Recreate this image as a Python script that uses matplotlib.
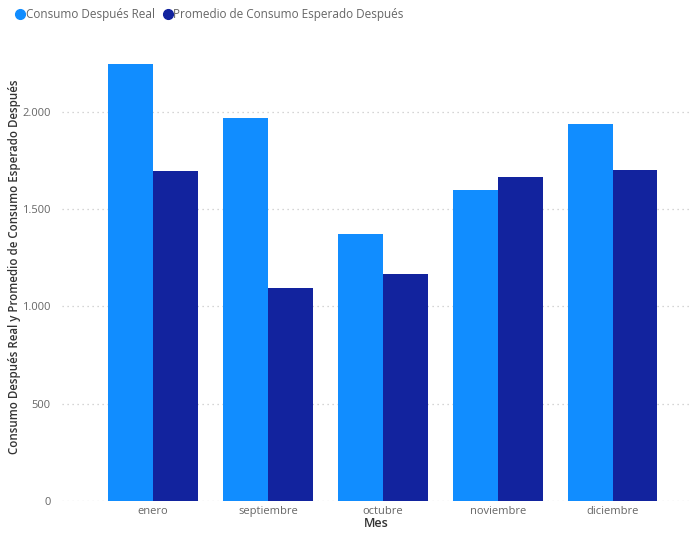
import numpy as np
import matplotlib.pyplot as plt
from matplotlib.lines import Line2D
from matplotlib.ticker import FuncFormatter

# Consumption per month: real vs. expected average
meses = ["enero", "septiembre", "octubre", "noviembre", "diciembre"]
consumo_real = [2246, 1969, 1374, 1598, 1938]
consumo_esperado = [1697, 1094, 1166, 1667, 1702]

plt.rcParams['font.family'] = ['Open Sans', 'DejaVu Sans']

color_real = '#118DFF'
color_esp = '#12239E'

fig = plt.figure(figsize=(6.92, 5.34), dpi=100)
ax = fig.add_axes([0.0896, 0.062, 0.907, 0.844])

x = np.arange(len(meses))
w = 0.39
ax.bar(x - w / 2, consumo_real, width=w, color=color_real, zorder=3)
ax.bar(x + w / 2, consumo_esperado, width=w, color=color_esp, zorder=3)

ax.set_xlim(-0.79, 4.67)
ax.set_ylim(0, 2318)
ax.set_xticks(x)
ax.set_xticklabels(meses)
ax.set_yticks([0, 500, 1000, 1500, 2000])
ax.yaxis.set_major_formatter(FuncFormatter(lambda v, p: f"{int(v):,}".replace(",", ".")))
ax.tick_params(axis='both', length=0, labelsize=8, labelcolor='#666666')
ax.tick_params(axis='x', pad=4)
ax.tick_params(axis='y', pad=8)

ax.grid(axis='y', linestyle=(0, (1, 3)), color='#C8C8C8', linewidth=0.9, zorder=0)
for s in ax.spines.values():
    s.set_visible(False)

ax.set_xlabel("Mes", fontsize=9, fontweight='semibold', color='#333333', labelpad=0)
ax.set_ylabel("Consumo Después Real y Promedio de Consumo Esperado Después",
              fontsize=8.3, fontweight='semibold', color='#333333')
ax.yaxis.set_label_coords(-0.066, 0.52)

# Legend across the top
handles = [
    Line2D([], [], marker='o', linestyle='', markersize=7, color=color_real),
    Line2D([], [], marker='o', linestyle='', markersize=7, color=color_esp),
]
fig.legend(handles, ["Consumo Después Real", "Promedio de Consumo Esperado Después"],
           loc='upper left', bbox_to_anchor=(0.008, 1.0), ncol=2, frameon=False,
           fontsize=8.5, handletextpad=0.0, columnspacing=0.6, handlelength=1.0,
           labelcolor='#666666', borderaxespad=0.3)

fig.savefig("out.png", dpi=100)
